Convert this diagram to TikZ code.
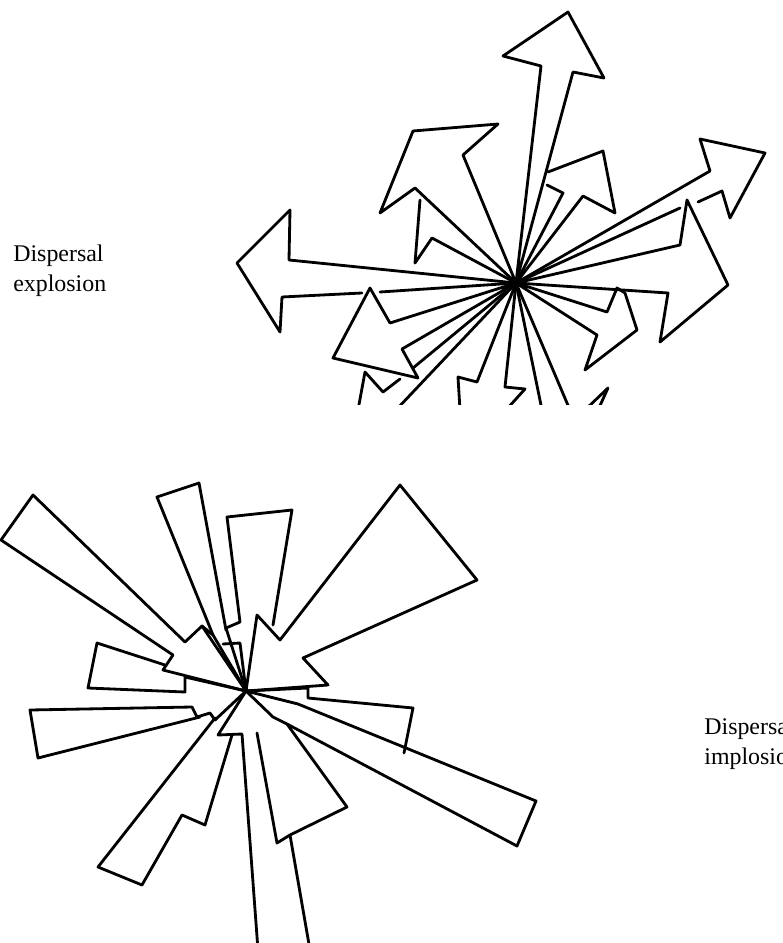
\documentclass[tikz,border=0pt]{standalone}
\usepackage{fontspec}
\setmainfont{Liberation Serif}
\usepackage{tikz}

\begin{document}
\begin{tikzpicture}[x=0.02cm,y=-0.02cm,
    pen/.style={line width=1.6pt,line join=round,line cap=round},
    lbl/.style={anchor=base west,inner sep=0pt,font=\fontsize{13.6}{17}\selectfont}]
  \useasboundingbox (0,0) rectangle (783,943);
  \clip (0,0) rectangle (783,943);
  \coordinate (ex) at (516,283);
  \coordinate (im) at (246,691);

  % explosion
  \node[lbl] (exA) at (13,261) {Dispersal};
  \node[lbl] (exB) at (13,291) {explosion};
  \begin{scope}
    \clip (200,0) rectangle (783,404);
    \draw[pen] (ex) -- (541,66) -- (503,56) -- (568,12) -- (604,78) -- (573,72) -- cycle;
    \draw[pen] (ex) -- (415,188) -- (380,213) -- (413,131) -- (498,124) -- (463,155) -- cycle;
    \draw[pen] (420,200) -- (415,263) -- (432,238) -- (ex);
    \draw[pen] (ex) -- (289,260) -- (290,210) -- (237,263) -- (280,332) -- (282,297) -- (362,293);
    \draw[pen] (380,292) -- (ex);
    \draw[pen] (ex) -- (390,323) -- (370,288) -- (333,358) -- (418,378) -- (402,349) -- cycle;
    \draw[pen] (413,368) -- (ex);
    \draw[pen] (358,410) -- (365,372) -- (383,392) -- (400,379);
    \draw[pen] (396,410) -- (ex);
    \draw[pen] (460,410) -- (458,377) -- (477,382) -- (ex);
    \draw[pen] (ex) -- (505,387) -- (525,389) -- (506,410);
    \draw[pen] (ex) -- (542,410);
    \draw[pen] (ex) -- (570,410);
    \draw[pen] (585,410) -- (608,388) -- (598,410);
    \draw[pen] (548,172) -- (603,151) -- (615,213) -- (583,196) -- (ex);
    \draw[pen] (547,185) -- (563,193) -- (ex);
    \draw[pen] (ex) -- (710,171) -- (700,139) -- (765,153) -- (730,218) -- (722,191) -- (698,202);
    \draw[pen] (680,208) -- (ex);
    \draw[pen] (ex) -- (680,245) -- (687,200) -- (728,285) -- (660,342) -- (668,293) -- cycle;
    \draw[pen] (ex) -- (607,312) -- (617,288) -- (625,293) -- (637,330) -- (585,370) -- (597,335) -- cycle;
  \end{scope}

  % implosion
  \node[lbl] (imA) at (704,734) {Dispersal};
  \node[lbl] (imB) at (704,764) {implosion};
  \draw[pen] (im) -- (202,626) -- (185,642) -- (33,495) -- (1,540) -- (173,655) -- (163,670) -- cycle;
  \draw[pen] (165,665) -- (97,643) -- (88,688) -- (185,692) -- (185,677) -- (im);
  \draw[pen] (im) -- (215,720) -- (210,713) -- (197,717) -- (192,707) -- (30,710) -- (38,758) -- (200,717);
  \draw[pen] (215,718) -- (98,867) -- (142,885) -- (182,815) -- (205,825) -- (232,735);
  \draw[pen] (im) -- (218,735) -- (242,734) -- (258,950);
  \draw[pen] (310,950) -- (290,835) -- (277,843) -- (257,733);
  \draw[pen] (290,835) -- (347,807) -- (287,724);
  \draw[pen] (im) -- (298,704) -- (536,801) -- (517,846) -- (287,724) -- (273,717) -- cycle;
  \draw[pen] (im) -- (308,688) -- (308,698) -- (413,708) -- (404,753);
  \draw[pen] (im) -- (328,685) -- (303,658) -- (477,580) -- (400,485) -- (280,640) -- (257,615) -- cycle;
  \draw[pen] (273,625) -- (292,510) -- (227,517) -- (240,622) -- (226,628) -- (im);
  \draw[pen] (223,644) -- (240,643) -- (im);
  \draw[pen] (213,635) -- (157,497) -- (199,483) -- (226,630);
  \draw[pen] (202,626) -- (213,635) -- (im);
\end{tikzpicture}
\end{document}
